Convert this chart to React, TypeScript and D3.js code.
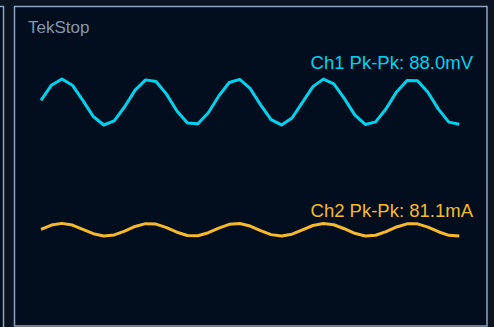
import React from "react";
import * as d3 from "d3";

// Acquired samples (one record, equal sample interval)
const ch1Samples: number[] = [
  3.1, 32.2, 44.0, 32.2, 3.1, -27.7, -44.0, -36.0, -9.1, 22.7,
  42.3, 39.2, 15.0, -17.2, -40.2, -41.6, -20.7, 11.4, 37.3, 43.2,
  25.9, -5.4, -33.7, -43.9, -30.6, -0.8, 29.4, 43.8, 34.7, 6.9,
  -24.6, -42.9, -38.1, -12.9, 19.3, 41.1, 40.8, 18.6, -13.6, -38.5,
  -42.7,
]; // mV

const ch2Samples: number[] = [
  2.9, 29.7, 40.6, 29.7, 2.9, -25.5, -40.1, -33.2, -8.4, 20.9,
  39.0, 36.1, 13.8, -15.9, -37.0, -38.3, -19.1, 10.5, 34.4, 39.8,
  23.9, -5.0, -31.1, -40.5, -28.2, -0.7, 27.1, 40.4, 32.0, 6.4,
  -22.7, -39.5, -35.1, -11.9, 17.8, 37.9, 37.6, 17.1, -12.5, -35.5,
  -39.4,
]; // mA

const channelNames = ["Ch1", "Ch2"];
const channelUnits = ["mV", "mA"];
const statusText = "TekStop";

const W = 494;
const H = 327;

const pkpk = (v: number[]) => (d3.max(v)! - d3.min(v)!).toFixed(1);

export default function App() {
  const x = d3
    .scaleLinear()
    .domain([0, ch1Samples.length - 1])
    .range([41, 459.3]);

  // Each channel has its own vertical scale and position on screen
  const y1 = d3.scaleLinear().domain([-44, 44]).range([125, 79]);
  const y2 = d3.scaleLinear().domain([-40.55, 40.55]).range([236.1, 223.4]);

  const line1 = d3
    .line<number>()
    .x((_, i) => x(i))
    .y((d) => y1(d))
    .curve(d3.curveLinear);
  const line2 = d3
    .line<number>()
    .x((_, i) => x(i))
    .y((d) => y2(d))
    .curve(d3.curveLinear);

  const font = "'Liberation Sans', Arial, Helvetica, sans-serif";
  const cyan = "#00d2ee";
  const gold = "#f6b92b";

  return (
    <svg
      width={W}
      height={H}
      viewBox={`0 0 ${W} ${H}`}
      style={{ position: "absolute", left: 0, top: 0, display: "block" }}
    >
      <rect x={0} y={0} width={W} height={H} fill="#0b1521" />
      {/* neighbouring panel edge */}
      <rect
        x={-20}
        y={6.5}
        width={23.5}
        height={H}
        fill="#020e1e"
        stroke="#8ea3bf"
        strokeWidth={1.5}
      />
      {/* scope panel */}
      <rect
        x={14.5}
        y={6.5}
        width={472.5}
        height={319.5}
        fill="#020e1e"
        stroke="#8ea3bf"
        strokeWidth={1.5}
      />
      <text
        x={28}
        y={33.3}
        fill="#8696ad"
        fontFamily={font}
        fontSize={17}
      >
        {statusText}
      </text>

      <path
        d={line1(ch1Samples) || ""}
        fill="none"
        stroke={cyan}
        strokeWidth={3}
        strokeLinejoin="round"
        strokeLinecap="butt"
      />
      <path
        d={line2(ch2Samples) || ""}
        fill="none"
        stroke={gold}
        strokeWidth={3}
        strokeLinejoin="round"
        strokeLinecap="butt"
      />

      <text
        x={473}
        y={69.3}
        textAnchor="end"
        fill={cyan}
        fontFamily={font}
        fontSize={18.5}
      >
        {`${channelNames[0]} Pk-Pk: ${pkpk(ch1Samples)}${channelUnits[0]}`}
      </text>
      <text
        x={473}
        y={217.3}
        textAnchor="end"
        fill={gold}
        fontFamily={font}
        fontSize={18.5}
      >
        {`${channelNames[1]} Pk-Pk: ${pkpk(ch2Samples)}${channelUnits[1]}`}
      </text>
    </svg>
  );
}
